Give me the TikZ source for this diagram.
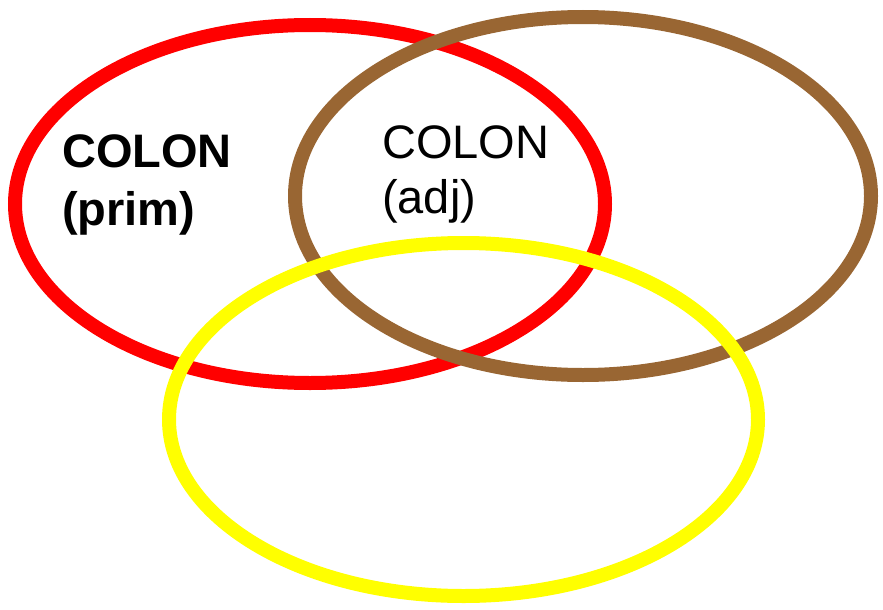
\documentclass[tikz,border=0pt]{standalone}
\usepackage{fontspec}
\setmainfont{Liberation Sans}
\definecolor{brownring}{HTML}{996633}
\definecolor{redring}{HTML}{FF0000}
\definecolor{yellowring}{HTML}{FFFF00}
\begin{document}
\begin{tikzpicture}[x=1pt,y=-1pt,
  ring/.style={line width=14pt},
  lbl/.style={anchor=base west,inner sep=0pt,align=left,font=\fontsize{47}{55}\selectfont}]
\useasboundingbox (0,0) rectangle (883,610);
\draw[ring,redring] (310,204) ellipse [x radius=295,y radius=179];
\draw[ring,brownring] (583,196) ellipse [x radius=288,y radius=179];
\draw[ring,yellowring] (463.5,419.5) ellipse [x radius=294.5,y radius=176.5];
\node[lbl,font=\fontsize{47}{58}\selectfont\bfseries] (prim) at (62,225) {COLON\\(prim)};
\node[lbl] (adj) at (382,213) {COLON\\(adj)};
\end{tikzpicture}
\end{document}
